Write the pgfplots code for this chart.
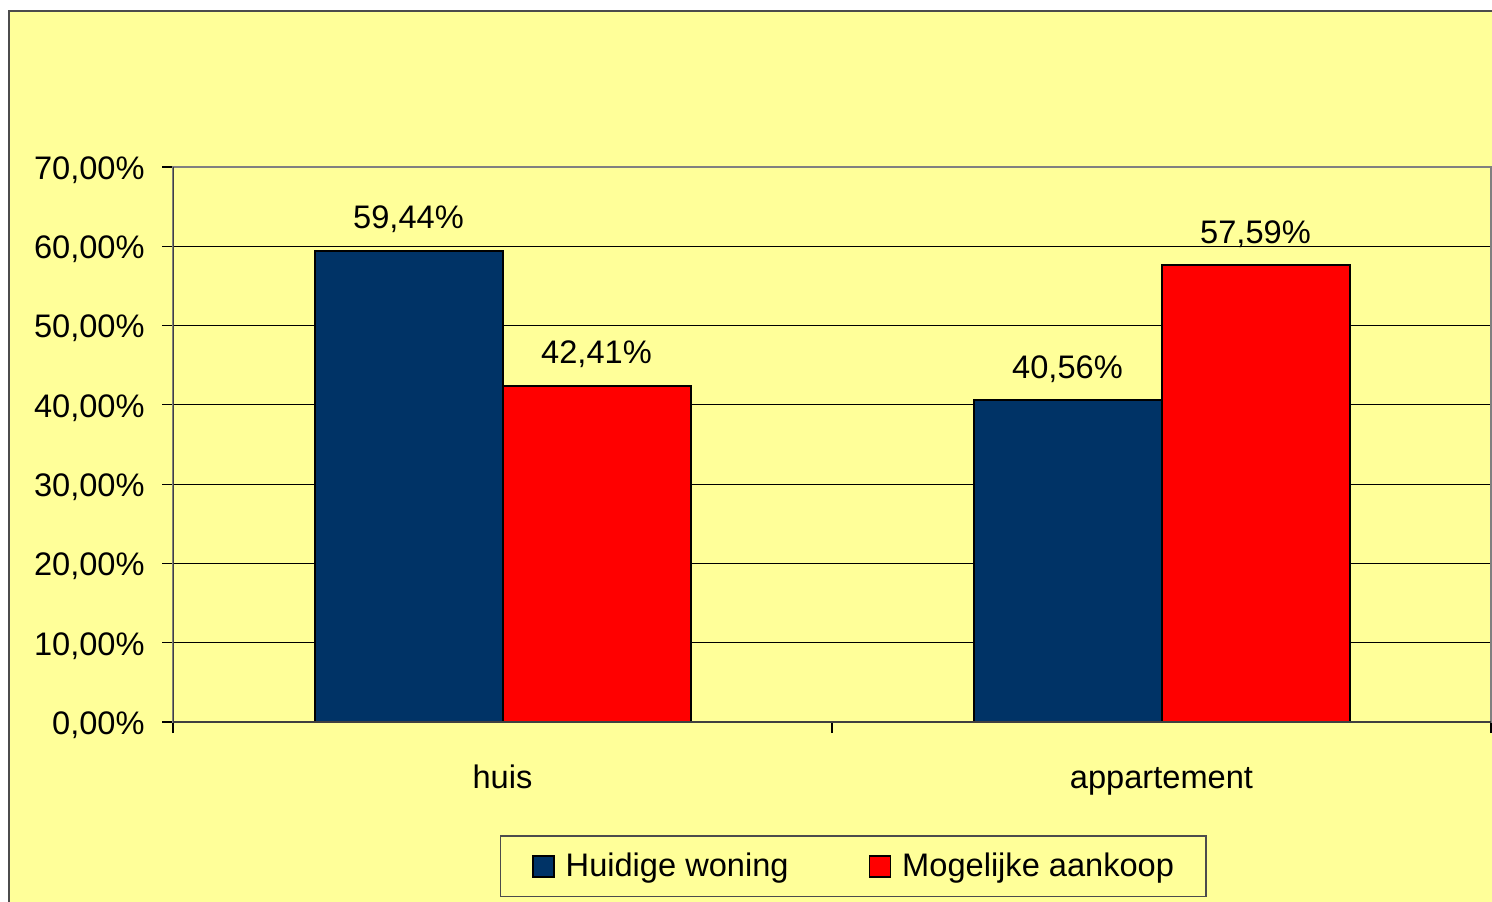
\documentclass[border=0pt]{standalone}
\usepackage{fontspec}
\setmainfont{Liberation Sans}
\usepackage{pgfplots}
\pgfplotsset{compat=1.18}
\pgfplotsset{/pgf/number format/assume math mode=true}

\definecolor{chartyellow}{HTML}{FFFF99}
\definecolor{barblue}{HTML}{003366}
\definecolor{barred}{HTML}{FF0000}

\newcommand{\chartfont}{\fontsize{16.3}{19}\selectfont}

\begin{document}
\begin{tikzpicture}
% page = 1492 x 901 px, 1 px = 0.5pt
\useasboundingbox (0,0) rectangle (746pt,-450.5pt);
\fill[white] (0,0) rectangle (746pt,-450.5pt);
\fill[chartyellow] (4.5pt,-5.5pt) rectangle (750pt,-455pt);
\draw[black!70, line width=0.9pt] (4.5pt,-455pt) -- (4.5pt,-5.5pt) -- (750pt,-5.5pt);

\begin{axis}[
    at={(86.5pt,-361pt)}, anchor=south west,
    scale only axis,
    width=659pt, height=277.5pt,
    xmin=-0.5, xmax=1.5,
    ymin=0, ymax=70,
    ybar=0pt, bar width=94pt,
    xtick={0,1},
    xticklabels={huis,appartement},
    major x tick style={draw=none},
    minor xtick={-0.5,0.5,1.5},
    ytick={0,10,...,70},
    yticklabel={\pgfmathprintnumber[fixed,fixed zerofill,precision=2,use comma]{\tick}\%},
    tick pos=left,
    tick align=outside,
    major tick length=5.5pt, minor tick length=5.5pt,
    tick style={black, line width=0.6pt},
    ymajorgrids,
    grid style={black, line width=0.5pt},
    axis line style={draw=gray, line width=0.8pt},
    tick label style={font=\chartfont},
    yticklabel style={inner sep=0pt, xshift=-8.5pt, yshift=-1.5pt},
    xticklabel style={anchor=base, yshift=-27.5pt},
    nodes near coords={\pgfmathprintnumber[fixed,fixed zerofill,precision=2,use comma]{\pgfplotspointmeta}\%},
    nodes near coords style={font=\chartfont, black, anchor=base, inner sep=0pt, yshift=11pt},
    legend columns=2,
    legend style={at={(rel axis cs:0.516,-0.26)}, anchor=center,
        draw=black!70, line width=0.6pt, fill=chartyellow, font=\chartfont,
        inner xsep=16pt, inner ysep=8.5pt,
        nodes={inner sep=0pt},
        column sep=5.5pt,
        /tikz/every even column/.append style={column sep=40pt}},
    legend image code/.code={\draw[#1, line width=0.8pt] (0pt,-5.25pt) rectangle (10.5pt,5.25pt);},
]
\addplot[fill=barblue, draw=black, line width=1pt] coordinates {(0,59.44) (1,40.56)};
\addlegendentry{Huidige woning}
\addplot[fill=barred, draw=black, line width=1pt] coordinates {(0,42.41) (1,57.59)};
\addlegendentry{Mogelijke aankoop}
\draw[black!75, line width=0.8pt] (rel axis cs:0,1) -- (rel axis cs:0,0) -- (rel axis cs:1,0);
\end{axis}
\end{tikzpicture}
\end{document}
